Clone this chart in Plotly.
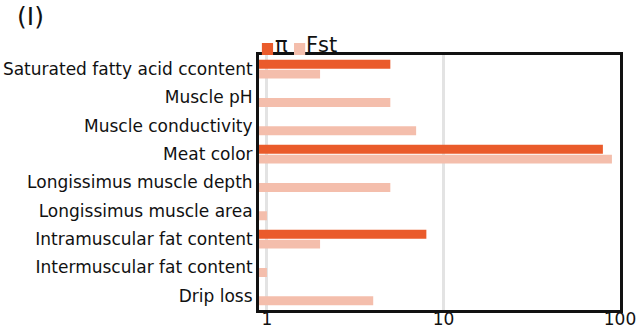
import plotly.graph_objects as go

traits = [
    "Saturated fatty acid ccontent",
    "Muscle pH",
    "Muscle conductivity",
    "Meat color",
    "Longissimus muscle depth",
    "Longissimus muscle area",
    "Intramuscular fat content",
    "Intermuscular fat content",
    "Drip loss",
]
pi_vals = [5, None, None, 80, None, None, 8, None, None]
fst_vals = [2, 5, 7, 90, 5, 1, 2, 1, 4]

series_names = ["π", "Fst"]
tick_vals = [1, 10, 100]
tick_text = ["1", "10", "100"]

PI_COLOR = "#EA5B2B"
FST_COLOR = "#F4BEAC"
FONT = "DejaVu Sans, Verdana, sans-serif"

fig = go.Figure()
fig.add_trace(go.Bar(y=traits, x=pi_vals, orientation="h", name=series_names[0],
                     marker=dict(color=PI_COLOR, line=dict(width=0))))
fig.add_trace(go.Bar(y=traits, x=fst_vals, orientation="h", name=series_names[1],
                     marker=dict(color=FST_COLOR, line=dict(width=0))))

fig.update_layout(
    width=641, height=332,
    margin=dict(l=259, r=21, t=55, b=22),
    paper_bgcolor="white", plot_bgcolor="white",
    barmode="group", bargap=0.3, bargroupgap=0.1,
    font=dict(family=FONT, color="#111111"),
    showlegend=False,
)
fig.update_xaxes(
    type="log", range=[-0.045, 2.0],
    tickvals=tick_vals, ticktext=tick_text,
    tickfont=dict(size=17), ticklabelstandoff=-8,
    showgrid=True, gridcolor="#E3E3E3", gridwidth=3,
    showline=True, linecolor="#111111", linewidth=3, mirror=True,
    ticks="", zeroline=False, automargin=False,
)
fig.update_yaxes(
    autorange="reversed", tickfont=dict(size=17),
    showline=True, linecolor="#111111", linewidth=3, mirror=True,
    ticks="", showgrid=False, automargin=False,
)

# compact legend: colour swatches followed by series names
legend_items = [(series_names[0], PI_COLOR, 0.008, 0.042),
                (series_names[1], FST_COLOR, 0.097, 0.128)]
for name, color, sx, tx in legend_items:
    fig.add_shape(type="rect", xref="paper", yref="paper",
                  x0=sx, x1=sx + 0.031, y0=1.0, y1=1.047,
                  fillcolor=color, line=dict(width=0))
    fig.add_annotation(text=name, xref="paper", yref="paper", x=tx, y=1.0,
                       xanchor="left", yanchor="bottom", yshift=-3,
                       showarrow=False, borderpad=0,
                       font=dict(size=21, color="#111111"))

fig.add_annotation(text="(I)", xref="paper", yref="paper", x=-0.675, y=1.215,
                   xanchor="left", yanchor="top", showarrow=False,
                   font=dict(size=25, color="#111111"))

fig.write_html("out.html")
